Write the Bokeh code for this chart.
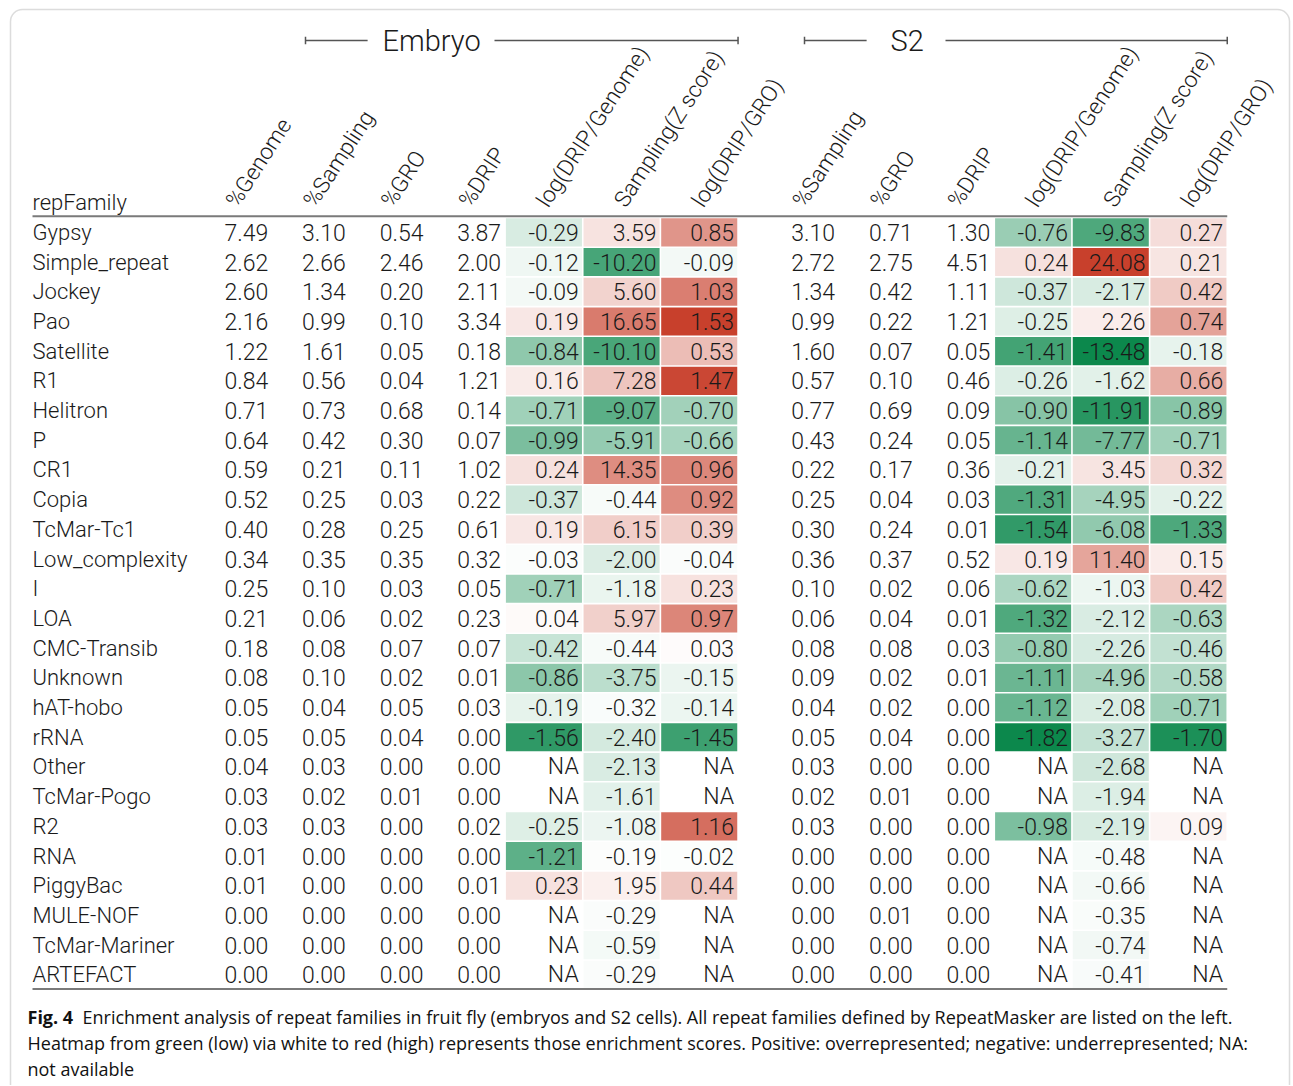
import math
from bokeh.plotting import figure
from bokeh.models import ColumnDataSource, Range1d, BoxAnnotation
from bokeh.core.properties import value
from bokeh.embed import file_html
from bokeh.resources import INLINE

NA = float("nan")

families = ["Gypsy", "Simple_repeat", "Jockey", "Pao", "Satellite", "R1", "Helitron", "P", "CR1",
            "Copia", "TcMar-Tc1", "Low_complexity", "I", "LOA", "CMC-Transib", "Unknown", "hAT-hobo",
            "rRNA", "Other", "TcMar-Pogo", "R2", "RNA", "PiggyBac", "MULE-NOF", "TcMar-Mariner", "ARTEFACT"]

emb_genome = [7.49, 2.62, 2.60, 2.16, 1.22, 0.84, 0.71, 0.64, 0.59, 0.52, 0.40, 0.34, 0.25, 0.21, 0.18,
              0.08, 0.05, 0.05, 0.04, 0.03, 0.03, 0.01, 0.01, 0.00, 0.00, 0.00]
emb_sampling = [3.10, 2.66, 1.34, 0.99, 1.61, 0.56, 0.73, 0.42, 0.21, 0.25, 0.28, 0.35, 0.10, 0.06, 0.08,
                0.10, 0.04, 0.05, 0.03, 0.02, 0.03, 0.00, 0.00, 0.00, 0.00, 0.00]
emb_gro = [0.54, 2.46, 0.20, 0.10, 0.05, 0.04, 0.68, 0.30, 0.11, 0.03, 0.25, 0.35, 0.03, 0.02, 0.07,
           0.02, 0.05, 0.04, 0.00, 0.01, 0.00, 0.00, 0.00, 0.00, 0.00, 0.00]
emb_drip = [3.87, 2.00, 2.11, 3.34, 0.18, 1.21, 0.14, 0.07, 1.02, 0.22, 0.61, 0.32, 0.05, 0.23, 0.07,
            0.01, 0.03, 0.00, 0.00, 0.00, 0.02, 0.00, 0.01, 0.00, 0.00, 0.00]
emb_log_genome = [-0.29, -0.12, -0.09, 0.19, -0.84, 0.16, -0.71, -0.99, 0.24, -0.37, 0.19, -0.03, -0.71,
                  0.04, -0.42, -0.86, -0.19, -1.56, NA, NA, -0.25, -1.21, 0.23, NA, NA, NA]
emb_zscore = [3.59, -10.20, 5.60, 16.65, -10.10, 7.28, -9.07, -5.91, 14.35, -0.44, 6.15, -2.00, -1.18,
              5.97, -0.44, -3.75, -0.32, -2.40, -2.13, -1.61, -1.08, -0.19, 1.95, -0.29, -0.59, -0.29]
emb_log_gro = [0.85, -0.09, 1.03, 1.53, 0.53, 1.47, -0.70, -0.66, 0.96, 0.92, 0.39, -0.04, 0.23, 0.97,
               0.03, -0.15, -0.14, -1.45, NA, NA, 1.16, -0.02, 0.44, NA, NA, NA]

s2_sampling = [3.10, 2.72, 1.34, 0.99, 1.60, 0.57, 0.77, 0.43, 0.22, 0.25, 0.30, 0.36, 0.10, 0.06, 0.08,
               0.09, 0.04, 0.05, 0.03, 0.02, 0.03, 0.00, 0.00, 0.00, 0.00, 0.00]
s2_gro = [0.71, 2.75, 0.42, 0.22, 0.07, 0.10, 0.69, 0.24, 0.17, 0.04, 0.24, 0.37, 0.02, 0.04, 0.08,
          0.02, 0.02, 0.04, 0.00, 0.01, 0.00, 0.00, 0.00, 0.01, 0.00, 0.00]
s2_drip = [1.30, 4.51, 1.11, 1.21, 0.05, 0.46, 0.09, 0.05, 0.36, 0.03, 0.01, 0.52, 0.06, 0.01, 0.03,
           0.01, 0.00, 0.00, 0.00, 0.00, 0.00, 0.00, 0.00, 0.00, 0.00, 0.00]
s2_log_genome = [-0.76, 0.24, -0.37, -0.25, -1.41, -0.26, -0.90, -1.14, -0.21, -1.31, -1.54, 0.19, -0.62,
                 -1.32, -0.80, -1.11, -1.12, -1.82, NA, NA, -0.98, NA, NA, NA, NA, NA]
s2_zscore = [-9.83, 24.08, -2.17, 2.26, -13.48, -1.62, -11.91, -7.77, 3.45, -4.95, -6.08, 11.40, -1.03,
             -2.12, -2.26, -4.96, -2.08, -3.27, -2.68, -1.94, -2.19, -0.48, -0.66, -0.35, -0.74, -0.41]
s2_log_gro = [0.27, 0.21, 0.42, 0.74, -0.18, 0.66, -0.89, -0.71, 0.32, -0.22, -1.33, 0.15, 0.42, -0.63,
              -0.46, -0.58, -0.71, -1.70, NA, NA, 0.09, NA, NA, NA, NA, NA]

embryo_headers = ["%Genome", "%Sampling", "%GRO", "%DRIP", "log(DRIP/Genome)", "Sampling(Z score)", "log(DRIP/GRO)"]
s2_headers = ["%Sampling", "%GRO", "%DRIP", "log(DRIP/Genome)", "Sampling(Z score)", "log(DRIP/GRO)"]
embryo_kinds = ["plain", "plain", "plain", "plain", "log", "z", "log"]
s2_kinds = ["plain", "plain", "plain", "log", "z", "log"]
group_names = ["Embryo", "S2"]
row_header = "repFamily"

caption_bold = "Fig. 4"
caption_lines = [
    "Enrichment analysis of repeat families in fruit fly (embryos and S2 cells). All repeat families defined by RepeatMasker are listed on the left.",
    "Heatmap from green (low) via white to red (high) represents those enrichment scores. Positive: overrepresented; negative: underrepresented; NA:",
    "not available",
]

embryo_values = [emb_genome, emb_sampling, emb_gro, emb_drip, emb_log_genome, emb_zscore, emb_log_gro]
s2_values = [s2_sampling, s2_gro, s2_drip, s2_log_genome, s2_zscore, s2_log_gro]

# ---------------- layout (pixels -> data units) ----------------
W, H = 1292, 1085
PX_X = 77.65      # px per column
PX_Y = 29.7       # px per row
X0 = 194          # canvas x of first column's left edge
Y0 = 217          # canvas y of first row's top edge
GAP = 0.3         # gap between the two groups (columns)

def dx(px):  # canvas px -> data x
    return (px - X0) / PX_X

def dy(py):
    return (py - Y0) / PX_Y

FONT = "Roboto Light"
CAP_FONT = "Open Sans"
TXT = "#1a1a1a"

p = figure(width=W, height=H, output_backend="svg", toolbar_location=None,
           x_axis_type=None, y_axis_type=None, min_border=0,
           x_range=Range1d(dx(0), dx(W)), y_range=Range1d(dy(H), dy(0)),
           outline_line_color=None, background_fill_color="white", border_fill_color="white")

# column definitions
columns = []
for k, (h, kind, vals) in enumerate(zip(embryo_headers, embryo_kinds, embryo_values)):
    columns.append(dict(group=0, header=h, kind=kind, vals=vals, center=k + 0.5))
for j, (h, kind, vals) in enumerate(zip(s2_headers, s2_kinds, s2_values)):
    columns.append(dict(group=1, header=h, kind=kind, vals=vals, center=len(embryo_headers) + GAP + j + 0.5))

# colour scales (shared per kind)
GREEN = (12, 136, 76)
RED = (200, 64, 44)
rng = {}
for kind in ("log", "z"):
    allv = [v for c in columns if c["kind"] == kind for v in c["vals"] if not math.isnan(v)]
    rng[kind] = (min(allv), max(allv))

def colour(v, kind):
    lo, hi = rng[kind]
    if v >= 0:
        t, end = v / hi, RED
    else:
        t, end = v / lo, GREEN
    t = max(0.0, min(1.0, t))
    r, g, b = (round(255 + t * (e - 255)) for e in end)
    return "#%02x%02x%02x" % (r, g, b)

cell = dict(x=[], y=[], color=[])
num = dict(x=[], y=[], text=[])
for c in columns:
    for i, v in enumerate(c["vals"]):
        num["x"].append(c["center"] + 0.5)
        num["y"].append(i + 0.5)
        num["text"].append("NA" if math.isnan(v) else f"{v:.2f}")
        if c["kind"] != "plain" and not math.isnan(v):
            cell["x"].append(c["center"])
            cell["y"].append(i + 0.5)
            cell["color"].append(colour(v, c["kind"]))

p.rect(x="x", y="y", width=1 - 1.6 / PX_X, height=1 - 1.6 / PX_Y, fill_color="color",
       line_color=None, source=ColumnDataSource(cell))

p.text(x="x", y="y", text="text", source=ColumnDataSource(num), x_offset=-4,
       text_font=value(FONT), text_font_size="23px", text_align="right",
       text_baseline="middle", text_color=TXT)

# row labels
LABEL_X = dx(32)
p.text(x=[LABEL_X] * len(families), y=[i + 0.5 for i in range(len(families))], text=families,
       text_font=value(FONT), text_font_size="22px", text_align="left",
       text_baseline="middle", text_color=TXT)
p.text(x=[LABEL_X], y=[0], text=[row_header], y_offset=-15,
       text_font=value(FONT), text_font_size="22px", text_align="left",
       text_baseline="alphabetic", text_color=TXT)

# rotated column headers
p.text(x=[c["center"] - 0.03 for c in columns], y=[0] * len(columns), text=[c["header"] for c in columns],
       y_offset=-13, angle=math.radians(57),
       text_font=value(FONT), text_font_size="22.5px", text_align="left",
       text_baseline="alphabetic", text_color=TXT)

# rules
n = len(families)
right_edge = len(embryo_headers) + GAP + len(s2_headers)
p.segment(x0=[LABEL_X, LABEL_X], y0=[-0.04, n - 0.02], x1=[right_edge, right_edge], y1=[-0.04, n - 0.02],
          line_color="#7a7a7a", line_width=2)

# group brackets
emb_end = len(embryo_headers)
s2_start = emb_end + GAP
brackets = [
    dict(start=dx(305), end=emb_end, text_x=dx(382), seg2=dx(494)),
    dict(start=dx(804), end=right_edge, text_x=dx(890), seg2=dx(945)),
]
BY = dy(40)
sx0, sx1 = [], []
for b in brackets:
    sx0 += [b["start"], b["seg2"]]
    sx1 += [b["start"] + 0.8, b["end"]]
p.segment(x0=sx0, y0=[BY] * 4, x1=sx1, y1=[BY] * 4, line_color="#555555", line_width=1.5)
tick_x = [b["start"] for b in brackets] + [b["end"] for b in brackets]
p.segment(x0=tick_x, y0=[BY - 0.13] * 4, x1=tick_x, y1=[BY + 0.13] * 4, line_color="#555555", line_width=1.5)
p.text(x=[b["text_x"] for b in brackets], y=[BY] * 2, text=group_names,
       text_font=value(FONT), text_font_size="29px", text_align="left",
       text_baseline="middle", text_color=TXT)

# caption
cap_y = [dy(1016), dy(1042), dy(1068)]
p.text(x=[dx(27)], y=[cap_y[0]], text=[caption_bold], text_font=value(CAP_FONT),
       text_font_size="18px", text_font_style="bold", text_align="left", text_baseline="middle",
       text_color="#111111")
p.text(x=[dx(82), dx(27), dx(27)], y=cap_y, text=caption_lines, text_font=value(CAP_FONT),
       text_font_size="18px", text_align="left", text_baseline="middle", text_color="#111111")

# outer rounded frame
p.add_layout(BoxAnnotation(left=dx(10), right=dx(1289), top=dy(9), bottom=dy(H + 40),
                           fill_color=None, line_color="#8a8a8a", line_width=1.5, border_radius=12))

open("out.html", "w").write(file_html(p, INLINE))
